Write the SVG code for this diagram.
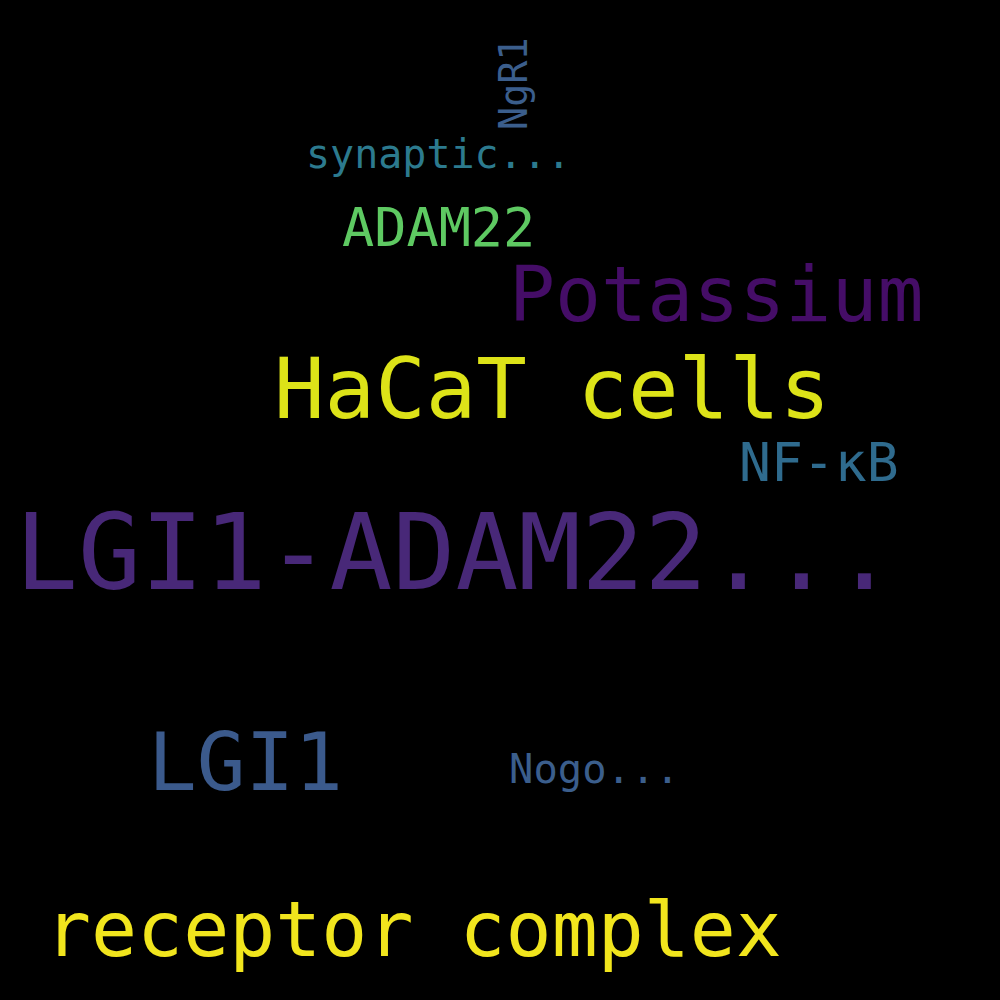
<svg xmlns="http://www.w3.org/2000/svg" width="1000" height="1000" viewBox="0 0 1000 1000">
<style>
text{font-family:"DejaVu Sans Mono","Liberation Mono",monospace;}
</style>
<rect width="1000" height="1000" fill="#000"/>
<g id="w1"><text x="15" y="589" font-size="104.5" fill="#482878">LGI1-ADAM22...</text></g>
<g id="w2"><text x="274" y="418" font-size="84" fill="#dde318">HaCaT cells</text></g>
<g id="w3"><text x="509" y="321" font-size="76.5" fill="#450d67">Potassium</text></g>
<g id="w4"><text x="45" y="956" font-size="76.5" fill="#f1e51d">receptor complex</text></g>
<g id="w5"><text x="148" y="790" font-size="81" fill="#3b5a8c">LGI1</text></g>
<g id="w6"><text x="739" y="481" font-size="53" fill="#2f6b8e">NF-κB</text></g>
<g id="w7"><text x="342" y="246" font-size="53.5" fill="#5ec962">ADAM22</text></g>
<g id="w8"><text x="306" y="168" font-size="40" fill="#2c7a8e">synaptic...</text></g>
<g id="w9"><text transform="translate(527,130) rotate(-90)" x="0" y="0" font-size="38.5" fill="#3b5e8c">NgR1</text></g>
<g id="w10"><text x="509" y="783" font-size="40.5" fill="#3b5e8c">Nogo...</text></g>
<g id="connectors"/>
</svg>
